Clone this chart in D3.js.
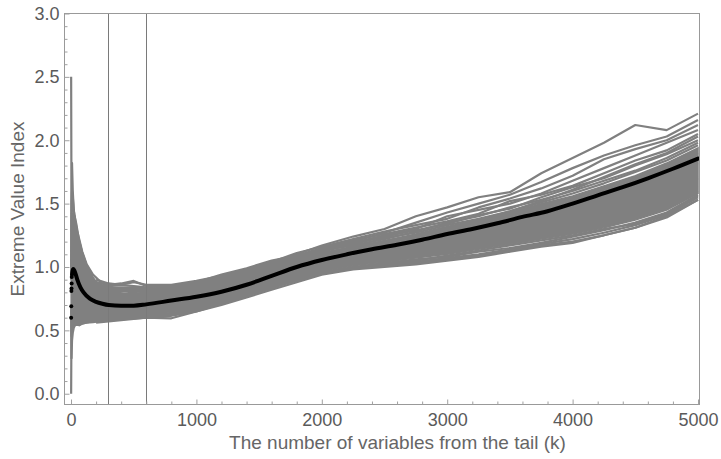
<!DOCTYPE html>
<html>
<head>
<meta charset="utf-8">
<script src="https://cdn.jsdelivr.net/npm/d3@7"></script>
<style>
  body { margin: 0; background: #fff; }
  .axis text { font-family: "Liberation Sans", Arial, sans-serif; fill: #5a5a5a; }
  .axis .domain { display: none; }
  .axis line { stroke: #a0a0a0; }
</style>
</head>
<body>
<div class="chart"></div>
<script>
// k values for the dense bundle and the early paths
const kGrid = [1, 4, 8, 14, 22, 32, 45, 65, 90, 125, 175, 250, 350, 450, 600, 800, 1000, 1200, 1400, 1600, 1800, 2000, 2250, 2500, 2750, 3000, 3250, 3500, 3750, 4000, 4250, 4500, 4750, 5000];

// dense middle of the bundle of gray paths
const coreLow  = [0.45, 0.48, 0.50, 0.52, 0.53, 0.54, 0.54, 0.54, 0.55, 0.56, 0.57, 0.59, 0.60, 0.61, 0.62, 0.64, 0.67, 0.72, 0.78, 0.85, 0.91, 0.96, 1.01, 1.04, 1.07, 1.10, 1.14, 1.18, 1.22, 1.26, 1.31, 1.37, 1.45, 1.58];
const coreHigh = [1.30, 1.42, 1.42, 1.42, 1.42, 1.40, 1.34, 1.22, 1.12, 1.02, 0.92, 0.82, 0.80, 0.79, 0.79, 0.81, 0.84, 0.88, 0.94, 1.00, 1.06, 1.11, 1.16, 1.21, 1.26, 1.32, 1.37, 1.43, 1.50, 1.56, 1.64, 1.72, 1.82, 1.94];

// paths that stick out at small k
const pathSpikeHigh = [2.50, 1.35, 1.20, 1.10, 1.05, 1.00, 0.95, 0.90, 0.85, 0.82, 0.78, 0.75, 0.74, 0.73, 0.74, 0.76, 0.79, 0.83, 0.88, 0.94, 1.00, 1.05, 1.10, 1.14, 1.18, 1.22, 1.27, 1.32, 1.37, 1.42, 1.48, 1.55, 1.62, 1.70];
const pathSpikeLow  = [0.00, 0.62, 0.70, 0.75, 0.80, 0.78, 0.76, 0.72, 0.70, 0.68, 0.66, 0.65, 0.64, 0.64, 0.65, 0.68, 0.71, 0.75, 0.80, 0.86, 0.92, 0.98, 1.03, 1.07, 1.10, 1.14, 1.18, 1.22, 1.27, 1.32, 1.37, 1.44, 1.52, 1.60];
const pathEarlyHigh = [0.90, 1.30, 1.82, 1.60, 1.45, 1.35, 1.25, 1.18, 1.08, 0.98, 0.90, 0.84, 0.80, 0.78, 0.78, 0.80, 0.84, 0.88, 0.93, 0.99, 1.05, 1.10, 1.15, 1.19, 1.24, 1.30, 1.36, 1.42, 1.48, 1.54, 1.60, 1.68, 1.76, 1.86];
const pathEarlyLow  = [0.70, 0.28, 0.42, 0.48, 0.52, 0.54, 0.55, 0.54, 0.555, 0.56, 0.565, 0.575, 0.585, 0.59, 0.60, 0.615, 0.65, 0.71, 0.78, 0.84, 0.90, 0.95, 0.99, 1.01, 1.03, 1.06, 1.09, 1.13, 1.17, 1.20, 1.25, 1.31, 1.40, 1.53];
const pathEarlyMid  = [1.00, 1.50, 1.60, 1.55, 1.45, 1.38, 1.30, 1.22, 1.12, 1.02, 0.94, 0.87, 0.83, 0.82, 0.81, 0.82, 0.85, 0.89, 0.93, 0.98, 1.04, 1.09, 1.14, 1.19, 1.25, 1.31, 1.36, 1.41, 1.46, 1.52, 1.58, 1.64, 1.72, 1.82];
const earlyPaths = [pathSpikeHigh, pathSpikeLow, pathEarlyHigh, pathEarlyLow, pathEarlyMid];

// k values for the paths on the edges of the bundle
const kEdge = [200, 300, 400, 500, 600, 800, 1000, 1200, 1400, 1600, 1800, 2000, 2250, 2500, 2750, 3000, 3250, 3500, 3750, 4000, 4250, 4500, 4750, 5000];

const upper1  = [0.86, 0.85, 0.86, 0.85, 0.84, 0.85, 0.88, 0.92, 0.97, 1.03, 1.10, 1.17, 1.24, 1.30, 1.40, 1.47, 1.55, 1.59, 1.74, 1.86, 1.98, 2.12, 2.08, 2.21];
const upper2  = [0.85, 0.84, 0.84, 0.84, 0.83, 0.84, 0.87, 0.91, 0.96, 1.02, 1.08, 1.14, 1.20, 1.27, 1.35, 1.43, 1.50, 1.57, 1.67, 1.78, 1.88, 1.96, 2.03, 2.16];
const upper3  = [0.90, 0.87, 0.86, 0.88, 0.86, 0.86, 0.89, 0.93, 0.98, 1.04, 1.11, 1.16, 1.22, 1.28, 1.33, 1.38, 1.47, 1.54, 1.62, 1.72, 1.85, 1.93, 2.00, 2.12];
const upper4  = [0.88, 0.86, 0.87, 0.89, 0.85, 0.85, 0.88, 0.94, 0.99, 1.05, 1.09, 1.13, 1.19, 1.25, 1.30, 1.40, 1.45, 1.50, 1.58, 1.68, 1.78, 1.88, 1.98, 2.08];
const upper5  = [0.84, 0.83, 0.82, 0.83, 0.82, 0.84, 0.86, 0.90, 0.96, 1.03, 1.09, 1.15, 1.21, 1.26, 1.31, 1.36, 1.42, 1.52, 1.57, 1.64, 1.74, 1.84, 1.92, 2.05];
const upper6  = [0.83, 0.82, 0.83, 0.82, 0.81, 0.83, 0.87, 0.90, 0.95, 1.01, 1.07, 1.12, 1.18, 1.24, 1.29, 1.34, 1.41, 1.46, 1.55, 1.63, 1.70, 1.80, 1.89, 2.00];
const upper7  = [0.86, 0.84, 0.83, 0.84, 0.83, 0.82, 0.85, 0.89, 0.95, 1.02, 1.07, 1.13, 1.17, 1.22, 1.28, 1.35, 1.40, 1.47, 1.53, 1.60, 1.68, 1.76, 1.86, 1.98];
const upper8  = [0.82, 0.81, 0.81, 0.80, 0.82, 0.83, 0.86, 0.90, 0.94, 1.00, 1.06, 1.11, 1.16, 1.23, 1.27, 1.33, 1.38, 1.44, 1.51, 1.58, 1.66, 1.75, 1.84, 1.96];
const upper9  = [0.85, 0.83, 0.82, 0.81, 0.80, 0.81, 0.84, 0.88, 0.93, 0.99, 1.05, 1.10, 1.15, 1.20, 1.25, 1.30, 1.36, 1.42, 1.48, 1.55, 1.62, 1.70, 1.79, 1.90];
const upper10 = [0.87, 0.84, 0.82, 0.81, 0.80, 0.80, 0.83, 0.87, 0.93, 0.98, 1.04, 1.09, 1.14, 1.19, 1.24, 1.31, 1.37, 1.44, 1.52, 1.61, 1.71, 1.81, 1.90, 2.03];
const lower1  = [0.56, 0.57, 0.58, 0.59, 0.60, 0.595, 0.65, 0.70, 0.76, 0.82, 0.88, 0.94, 0.98, 1.00, 1.02, 1.05, 1.08, 1.12, 1.16, 1.19, 1.25, 1.31, 1.39, 1.53];
const lower2  = [0.57, 0.58, 0.60, 0.60, 0.61, 0.62, 0.66, 0.71, 0.77, 0.84, 0.89, 0.95, 1.00, 1.02, 1.04, 1.07, 1.10, 1.14, 1.18, 1.22, 1.27, 1.33, 1.41, 1.55];
const lower3  = [0.58, 0.59, 0.59, 0.61, 0.62, 0.63, 0.67, 0.72, 0.78, 0.83, 0.90, 0.96, 0.99, 1.03, 1.06, 1.08, 1.12, 1.15, 1.19, 1.24, 1.29, 1.35, 1.43, 1.57];
const lower4  = [0.57, 0.60, 0.60, 0.60, 0.61, 0.63, 0.66, 0.73, 0.79, 0.85, 0.91, 0.95, 1.00, 1.03, 1.05, 1.09, 1.13, 1.17, 1.21, 1.25, 1.30, 1.34, 1.42, 1.56];
const edgePaths = [upper1, upper2, upper3, upper4, upper5, upper6, upper7, upper8, upper9, upper10,
                   lower1, lower2, lower3, lower4];

// mean estimate (black); first few k are drawn as separate dots
const meanK = [1, 2, 3, 4, 5, 6, 8, 12, 18, 25, 35, 50, 75, 100, 150, 200, 250, 300, 400, 500, 600, 800, 1000, 1200, 1400, 1600, 1800, 2000, 2200, 2400, 2600, 2800, 3000, 3200, 3400, 3600, 3800, 4000, 4200, 4400, 4600, 4800, 5000];
const meanV = [0.60, 0.69, 0.81, 0.83, 0.87, 0.92, 0.94, 0.97, 0.985, 0.975, 0.95, 0.90, 0.84, 0.80, 0.75, 0.725, 0.71, 0.70, 0.695, 0.695, 0.705, 0.735, 0.765, 0.805, 0.86, 0.93, 1.00, 1.055, 1.10, 1.14, 1.175, 1.215, 1.26, 1.30, 1.345, 1.395, 1.44, 1.50, 1.565, 1.63, 1.70, 1.775, 1.855];
const dotCount = 6;

const markerK = [300, 600];

const xTicks = [0, 1000, 2000, 3000, 4000, 5000];
const yTicks = [0.0, 0.5, 1.0, 1.5, 2.0, 2.5, 3.0];

const margin = {top: 13, right: 22, bottom: 55, left: 64};
const width = 721 - margin.left - margin.right;
const height = 459 - margin.top - margin.bottom;

const svg = d3.select('.chart').append('svg')
    .attr('width', 721)
    .attr('height', 459)
    .append('g')
    .attr('transform', `translate(${margin.left + 0.5},${margin.top + 0.5})`);

const xScale = d3.scaleLinear().domain([-52, 5012]).range([0, width]);
const yScale = d3.scaleLinear().domain([-0.085, 3.0]).range([height, 0]);

svg.append('clipPath').attr('id', 'plot-clip')
    .append('rect').attr('width', width).attr('height', height);

const plot = svg.append('g').attr('clip-path', 'url(#plot-clip)');

const gray = '#808080';

const area = d3.area()
    .x((d, i) => xScale(kGrid[i]))
    .y0((d, i) => yScale(coreLow[i]))
    .y1((d, i) => yScale(coreHigh[i]));

plot.append('path')
    .datum(kGrid)
    .attr('d', area)
    .attr('fill', gray)
    .attr('stroke', gray)
    .attr('stroke-width', 1.5);

const earlyLine = d3.line()
    .x((d, i) => xScale(kGrid[i]))
    .y(d => yScale(d));

const edgeLine = d3.line()
    .x((d, i) => xScale(kEdge[i]))
    .y(d => yScale(d));

plot.selectAll('.early')
    .data(earlyPaths)
    .enter()
    .append('path')
    .attr('class', 'early')
    .attr('d', earlyLine)
    .attr('fill', 'none')
    .attr('stroke', gray)
    .attr('stroke-width', 2.2)
    .attr('stroke-linejoin', 'round');

plot.selectAll('.edge')
    .data(edgePaths)
    .enter()
    .append('path')
    .attr('class', 'edge')
    .attr('d', edgeLine)
    .attr('fill', 'none')
    .attr('stroke', gray)
    .attr('stroke-width', 2.2)
    .attr('stroke-linejoin', 'round');

plot.selectAll('.marker')
    .data(markerK)
    .enter()
    .append('line')
    .attr('class', 'marker')
    .attr('x1', d => Math.round(xScale(d)))
    .attr('x2', d => Math.round(xScale(d)))
    .attr('y1', 0)
    .attr('y2', height)
    .attr('stroke', '#7a7a7a')
    .attr('stroke-width', 1);

const meanPts = meanK.map((k, i) => [k, meanV[i]]);

plot.append('path')
    .datum(meanPts.slice(dotCount))
    .attr('d', d3.line().curve(d3.curveMonotoneX).x(d => xScale(d[0])).y(d => yScale(d[1])))
    .attr('fill', 'none')
    .attr('stroke', '#000')
    .attr('stroke-width', 4)
    .attr('stroke-linejoin', 'round')
    .attr('stroke-linecap', 'round');

plot.selectAll('.dot')
    .data(meanPts.slice(0, dotCount))
    .enter()
    .append('circle')
    .attr('class', 'dot')
    .attr('cx', d => xScale(d[0]))
    .attr('cy', d => yScale(d[1]))
    .attr('r', 2)
    .attr('fill', '#000');

// frame
svg.append('rect')
    .attr('width', width)
    .attr('height', height)
    .attr('fill', 'none')
    .attr('stroke', '#999');

// ticks point into the frame
const xMinor = d3.range(0, 5001, 200).filter(v => v % 1000 !== 0);
svg.append('g')
    .attr('class', 'axis')
    .attr('transform', `translate(0,${height})`)
    .call(d3.axisBottom(xScale).tickValues(xMinor).tickSize(-3).tickFormat(''));
svg.append('g')
    .attr('class', 'axis x-axis')
    .attr('transform', `translate(0,${height})`)
    .call(d3.axisBottom(xScale).tickValues(xTicks).tickSize(-5).tickPadding(9).tickFormat(d3.format('d')))
    .selectAll('text').attr('font-size', '18px');

const yMinor = d3.range(0, 31).map(v => v / 10).filter(v => Math.round(v * 10) % 5 !== 0);
svg.append('g')
    .attr('class', 'axis')
    .call(d3.axisLeft(yScale).tickValues(yMinor).tickSize(-3).tickFormat(''));
svg.append('g')
    .attr('class', 'axis y-axis')
    .call(d3.axisLeft(yScale).tickValues(yTicks).tickSize(-5).tickPadding(5).tickFormat(d3.format('.1f')))
    .selectAll('text').attr('font-size', '18px');

svg.append('text')
    .attr('x', 333)
    .attr('y', height + 44)
    .attr('text-anchor', 'middle')
    .attr('font-family', '"Liberation Sans", Arial, sans-serif')
    .attr('font-size', '19px')
    .attr('fill', '#666')
    .text('The number of variables from the tail (k)');

svg.append('text')
    .attr('transform', `translate(${-41},${height / 2}) rotate(-90)`)
    .attr('text-anchor', 'middle')
    .attr('font-family', '"Liberation Sans", Arial, sans-serif')
    .attr('font-size', '19px')
    .attr('fill', '#666')
    .text('Extreme Value Index');
</script>
</body>
</html>
